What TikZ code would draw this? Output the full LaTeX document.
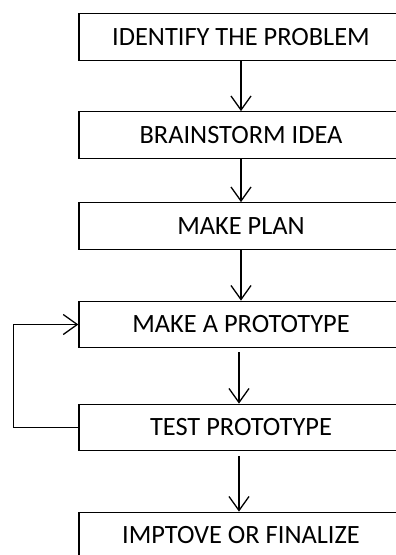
\documentclass[tikz,border=0pt]{standalone}
\usepackage{fontspec}
\setmainfont{Carlito}
\usetikzlibrary{arrows.meta}

\tikzset{every picture/.style={line width=1.3pt}}
\tikzset{
  box/.style={draw, minimum width=324pt, minimum height=46.5pt, inner sep=0pt, font=\fontsize{26.4}{28}\selectfont},
  flow/.style={-{Straight Barb[length=14pt,width=20pt,line width=1.3pt]}}
}

\begin{document}
\begin{tikzpicture}[x=1pt,y=1pt,yscale=-1,xscale=1]

\useasboundingbox (0,0) rectangle (396,555);
\clip (0,0) rectangle (396,555);

\node (p1) at (241,37) [box] {IDENTIFY THE PROBLEM};
\node (p2) at (241,135) [box] {BRAINSTORM IDEA};
\node (p3) at (241,226) [box] {MAKE PLAN};
\node (p4) at (241,324.5) [box] {MAKE A PROTOTYPE};
\node (p5) at (241,427.5) [box] {TEST PROTOTYPE};
\node (p6) at (241,535.5) [box] {IMPTOVE OR FINALIZE};

\coordinate (back) at (13.7,427.5);

\draw [flow] (p1) -- (p2) ;
\draw [flow] (p2) -- (p3) ;
\draw [flow] (p3) -- (p4) ;
\draw [flow] ([xshift=-2pt,yshift=4pt]p4.south) -- ([xshift=-2pt]p5.north) ;
\draw [flow] ([xshift=-2pt,yshift=4.5pt]p5.south) -- ([xshift=-2pt]p6.north) ;
\draw [flow] (p5.west) -- (back) |- (p4.west) ;

\end{tikzpicture}
\end{document}
